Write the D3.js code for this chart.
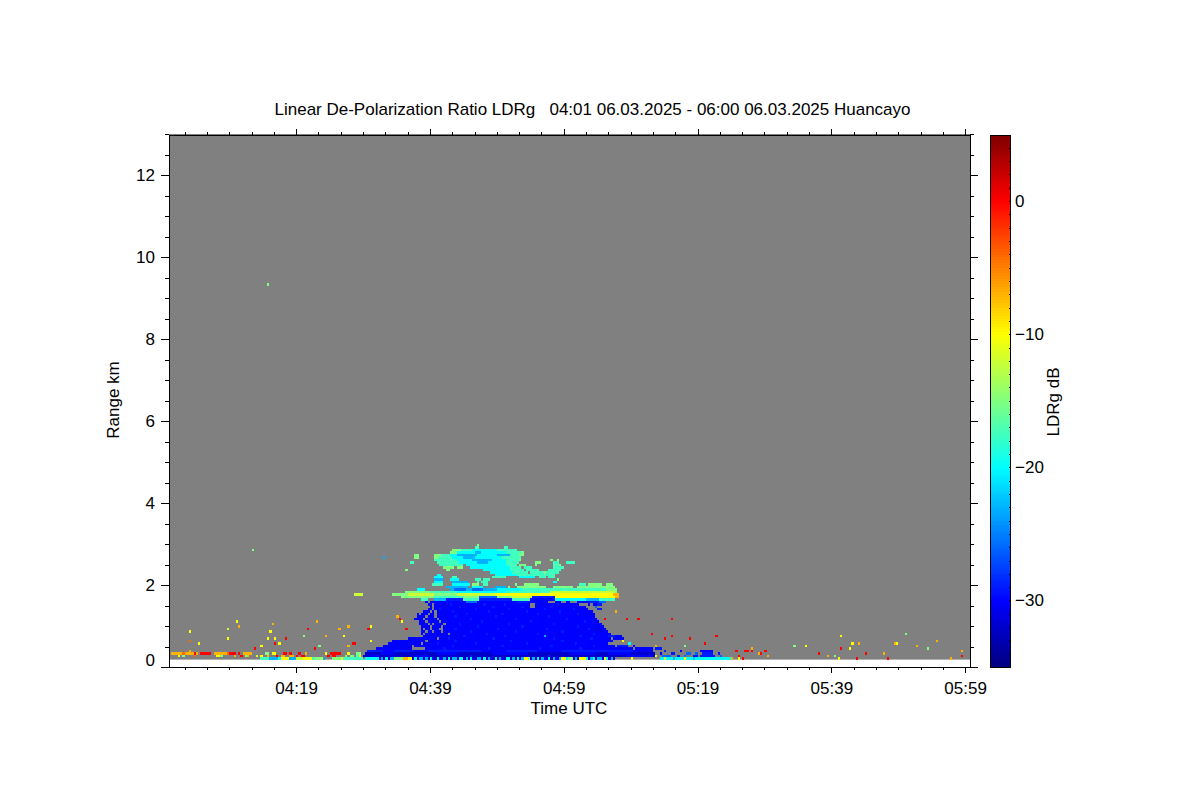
<!DOCTYPE html>
<html><head><meta charset="utf-8">
<script src="https://cdnjs.cloudflare.com/ajax/libs/d3/7.8.5/d3.min.js"></script>
<style>html,body{margin:0;background:#fff}svg{display:block}text{font-family:"Liberation Sans",Arial,sans-serif;fill:#000}</style>
</head><body><svg id="c" width="1200" height="800"></svg>
<script>
const titleText = "Linear De-Polarization Ratio LDRg   04:01 06.03.2025 - 06:00 06.03.2025 Huancayo";
const xLabel = "Time UTC", yLabel = "Range km", barLabel = "LDRg dB";
const timeDomainMin = [0, 119.73];
const rangeDomainKm = [0, 13];
const ldrDomainDb = [-35, 5];
const xTickMinutes = [19, 39, 59, 79, 99, 119];
const xTickLabels = ["04:19", "04:39", "04:59", "05:19", "05:39", "05:59"];
const yTicksKm = [0, 2, 4, 6, 8, 10, 12];
const barTicksDb = [-30, -20, -10, 0];
const colorStopsT = [0, 0.125, 0.375, 0.625, 0.875, 1];
const colorStops = ["#00007f", "#0000ff", "#00ffff", "#ffff00", "#ff0000", "#7f0000"];
const gateStepKm = 0.06, colStepMin = 1 / 3, firstGateKm = 0.18;
// LDR class letter -> dB value
const codeDb = {a:-32, b:-30, c:-29, d:-26, e:-23, f:-20, g:-17.5, h:-15, i:-12, j:-10, k:-7, l:-4, m:0};
// [range km, "startCol[-endCol]code ..."], column = 20 s since 04:00, "." clears a cell
const gateRows = [
[9.30,"44h"],[2.94,"138h"],[2.88,"137-138g 150-151g"],
[2.82,"37g 127-130h 131-135g 136-146f 147-152g 153-155g"],
[2.76,"126-128h 129-140f 137-139e 141-150f 151-157g 158h"],
[2.70,"110-111h 119-121h 122-125g 126-128f 129-137e 138-146f 147-152e 153-156g 157-158h"],
[2.64,"96e 110-111h 119-120h 121-126g 127-131f 132-136e 137-148f 149-153g 154-157g"],
[2.58,"119-123g 124-128g 129-135f 136-144e 145-150f 151-156g 157h 171h 174h"],
[2.52,"108-109g 120-124g 125-129g 130-137f 138-142e 143-150f 151-156g 164-166h 172-174g 178-181g"],
[2.46,"121-126g 127-131g 133-141f 142-150f 151-155g 157-159h 164h 172-174g 175h"],
[2.40,"123-127h 129-131h 135-142f 143-152f 153-157g 159-162g 172-176g"],
[2.34,"106h 124-125h 141-152f 153-158g 160-165g 170-175g"],
[2.28,"144-153f 154-160g 162-167g 168-169h 169-174g"],
[2.22,"120-121f 146-155f 156-167g 168-172g"],
[2.16,"119-122f 127-128g 145-150g 157-163f 166-168g 170-172g"],
[2.10,"119-122e 126-129f 137-139g 141-143g 174h"],
[2.04,"119-122f 127-133e 138g 140-142g 172-173f"],
[1.98,"118-122g 127-134f 136-138h 141-142g 155h 159-165h 184-186g 188-193h 196-198h"],
[1.92,"124-133e 136-140f 146-150e 152h 156-168h 172-180h 183-199h"],
[1.86,"111-114f 126-146e 128-132d 136-140d 147-157f 158-170g 171-195g 196-200h"],
[1.80,"106-116h 117-128g 129-150f 151-170g 171-199i 200h"],
[1.74,"83-86i 100-106h 107-118i 119-128h 129-145i 146-198j 199-201k"],
[1.68,"104-118h 119-131g 132-138h 139-146d 147-153h 154-162i 163-172c 173-199j 200-201k"],
[1.62,"113-115g 119-123e 124-131c 132-138g 139-153c 154-161g 162-172b 173-186f 187-192e 193-199g"],
[1.56,"115b 117-118b 119-188b 133-137d 156-160c 170-172. 176-177. 180-182. 188-192c 193-195d"],
[1.50,"116-117b 119-186b 126c 141c 150c 162-163. 174c 184-186. 188b 190-191b 192-193c"],
[1.44,"117b 119-186b 130c 145c 158c 162-163. 171c 191d"],
[1.38,"116-117b 119-187b 121c 137c 152c 168c 181c 192-193c"],
[1.32,"114-116b 118b 120-189b 127c 143c 160c 175c 200k"],
[1.26,"111b 113-115b 117-118b 120-190b 133c 149c 165c 183c"],
[1.20,"102m 111-114b 116-118b 120-190b 128c 146c 170c"],
[1.14,"103m 110-113b 115-119b 121-191b 135c 155c 178c 195m 205m 210m 225m"],
[1.08,"104j 112-114b 116-120b 122-192b 140c 162c 186c"],
[1.02,"112-115b 117b 119-122b 124-193b 130c 152c 172c"],
[0.96,"113-116b 118-121b 123-194b 138c 158c 183c"],
[0.90,"106m 113b 115-116b 118-120b 123-195b 128c 147c 169c 188c"],
[0.84,"113-114b 116-117b 119-121b 123-196b 135c 155c 176c"],
[0.78,"113b 115-119b 120-124b 126-197b 142c 165c 190c 216m"],
[0.72,"78j 114-121b 122-202b 132c 150c 168e 184c 197-199c 225m"],
[0.66,"107-119b 121-203b 125c 145c 172c 189c 198. 222m 233m"],
[0.60,"103m 100-114b 116-198b 128c 153c 176c 203j"],
[0.54,"83m 98-112b 114-196b 120c 137c 160c 182c 206f"],
[0.48,"80m 96-108b 110-199b 127c 149c 171c 190c 201-205c 208b 218k"],
[0.42,"93-108b 115-207b 123c 143c 166c 184c 209-216b 218-220c"],
[0.36,"89-207c 96-100b 110-115b 140-150b 165-175b 208-216b 222c 229b 238-243b"],
[0.30,"88-217a 95-100b 120-128b 145-160b 180-190b 197-206b 220b 225-226c 232-233d 236d 239-243c 246c"],
[0.24,"87-218a 90-93b 110-115b 135c 170c 205-216b 218j 221-224d 228c 231d 235-236c 238-244c 247d"],
[0.18,"78-86g 88-93f 94b 95e 96a 97f 98a 99-100e 101-104h 105-106k 107-108j 109a 110f 111a 112-113e 114a 115e 116a 117f 118b 119a 120f 121-122b 123e 124a 125f 126a 127-128e 129a 130-131f 132a 133e 134a 135f 136b 137a 138-139e 140a 141f 142a 143e 144b 145a 146f 147a 148e 149b 150a 151-152f 153a 154e 155a 156f 157a 158e 159-160j 161h 162a 163e 164a 165f 166a 167e 168b 169a 170f 171a 172e 173b 174a 175e 176-177j 178f 179-180h 181a 182e 183a 184-186j 187f 188a 189e 190f 191a 192-193e 194b 195j 196f 197a 198e 199a 207j 220-251f 222i 226e 231j 235e 240f 252k"],
// sparse returns before and after the cloud
[1.20,"102k"],[1.08,"30j 66k"],[1.02,"46k"],[0.96,"31k 80k 90j"],[0.90,"26i 62m 76k 89m"],[0.84,"9j 45j"],
[0.78,"330h"],[0.72,"60h 70k 78j 245m 301j"],[0.66,"26j 44j 47j 52m 233m"],[0.60,"9l 90j 344k"],
[0.54,"13j 47m 49j 82m 240m 306j 309k 325k 326j"],[0.48,"41j 67h 80k 231h 285j 335k 280h"],[0.42,"38m 65m 261k 301m 305j 340h"],
[0.36,"9k 254m 258m 259m 261m 267m 355k"],
[0.30,"1-5k 6l 7-10k 11m 12k 14-18m 20k 21-25k 26l 27-29m 31m 33-36k 43-44h 46-47j 51-52m 54m 58m 61k 70j 72-76m 80j 84-85h 264k 265m 291m 312m 320k"],
[0.24,"4j 6h 11l 21-22j 23h 29k 32m 34h 35k 39i 41j 44k 48m 50-51k 54-55k 57m 59-60m 71m 73-74m 79h 81-82h 84g 85j 255m 268k 295k 298h 355m"],
[0.18,"41-44g 45-48e 49f 50-53j 54-56e 57-59i 60-63j 64g 65-67h 68i 69e 73-76h 77j 79-81g 255j 257m 300j 308m 322m 350k"],
[2.82,"37h"]
];

const svg = d3.select("#c");
const plot = {left:169, right:970, top:135, bottom:667};
const bar = {left:990, right:1010};
const x = d3.scaleLinear().domain(timeDomainMin).range([plot.left, plot.right]);
const y = d3.scaleLinear().domain(rangeDomainKm).range([plot.bottom, plot.top - 1]);
const zBar = d3.scaleLinear().domain(ldrDomainDb).range([plot.bottom, plot.top - 0.5]);
const color = d3.scaleLinear()
  .domain(colorStopsT.map(t => ldrDomainDb[0] + t * (ldrDomainDb[1] - ldrDomainDb[0])))
  .range(colorStops).interpolate(d3.interpolateRgb);

// plot background
svg.append("rect").attr("x", x(timeDomainMin[0])).attr("width", x(timeDomainMin[1]) - x(timeDomainMin[0]))
  .attr("y", y(rangeDomainKm[1])).attr("height", y(firstGateKm) - y(rangeDomainKm[1])).attr("fill", "#808080");

// expand gates into cells
const cellMap = new Map();
gateRows.forEach(([km, tokens]) => {
  tokens.split(" ").forEach(tok => {
    const m = tok.match(/^(\d+)(?:-(\d+))?([a-m.])$/);
    const from = +m[1], to = m[2] ? +m[2] : from;
    for (let c = from; c <= to; c++) {
      const key = km.toFixed(2) + "|" + c;
      if (m[3] === ".") cellMap.delete(key);
      else cellMap.set(key, {km, c, db: codeDb[m[3]]});
    }
  });
});
svg.append("g").attr("shape-rendering", "crispEdges").selectAll("rect").data([...cellMap.values()]).join("rect")
  .attr("x", d => x(d.c * colStepMin))
  .attr("width", d => x((d.c + 1) * colStepMin) - x(d.c * colStepMin))
  .attr("y", d => y(d.km + gateStepKm))
  .attr("height", d => y(d.km) - y(d.km + gateStepKm))
  .attr("fill", d => color(d.db));

// axes
const minorX = d3.range(0, 120, 10 / 3).filter(v => v <= timeDomainMin[1]).map(v => v - 1 + 0).filter(v => v >= 0);
const minorY = d3.range(0, 13.01, 0.5);
function style(g) { g.selectAll("path,line").attr("stroke", "#000").attr("stroke-width", 1).attr("shape-rendering", "crispEdges"); g.selectAll("text").attr("font-size", 17); }
const xFmt = d => xTickLabels[xTickMinutes.indexOf(d)];
svg.append("g").attr("transform", `translate(0,${plot.bottom})`).call(d3.axisBottom(x).tickValues(minorX).tickSize(3).tickFormat("").tickSizeOuter(0)).call(style);
svg.append("g").attr("transform", `translate(0,${plot.bottom})`).call(d3.axisBottom(x).tickValues(xTickMinutes).tickSize(6).tickPadding(9).tickFormat(xFmt).tickSizeOuter(0)).call(style);
svg.append("g").attr("transform", `translate(0,${plot.top})`).call(d3.axisTop(x).tickValues(minorX).tickSize(3).tickFormat("").tickSizeOuter(0)).call(style);
svg.append("g").attr("transform", `translate(0,${plot.top})`).call(d3.axisTop(x).tickValues(xTickMinutes).tickSize(6).tickFormat("").tickSizeOuter(0)).call(style);
svg.append("g").attr("transform", `translate(${plot.left},0)`).call(d3.axisLeft(y).tickValues(minorY).tickSize(4).tickFormat("").tickSizeOuter(0)).call(style);
const yAxis = svg.append("g").attr("transform", `translate(${plot.left},0)`).call(d3.axisLeft(y).tickValues(yTicksKm).tickSize(8).tickPadding(6).tickFormat(d3.format("d")).tickSizeOuter(0)).call(style);
yAxis.selectAll(".tick").filter(d => d === 0).select("text").attr("dy", "-0.1em");
svg.append("g").attr("transform", `translate(${plot.right},0)`).call(d3.axisRight(y).tickValues(minorY).tickSize(4).tickFormat("").tickSizeOuter(0)).call(style);
svg.append("g").attr("transform", `translate(${plot.right},0)`).call(d3.axisRight(y).tickValues(yTicksKm).tickSize(8).tickFormat("").tickSizeOuter(0)).call(style);

// colour bar
const barSteps = d3.range(ldrDomainDb[0], ldrDomainDb[1], 0.2);
svg.append("g").attr("shape-rendering", "crispEdges").selectAll("rect").data(barSteps).join("rect")
  .attr("x", bar.left).attr("width", bar.right - bar.left)
  .attr("y", d => zBar(d + 0.2)).attr("height", d => zBar(d) - zBar(d + 0.2) + 0.5)
  .attr("fill", d => color(d + 0.1));
svg.append("rect").attr("x", bar.left).attr("y", plot.top).attr("width", bar.right - bar.left).attr("height", plot.bottom - plot.top)
  .attr("fill", "none").attr("stroke", "#000").attr("shape-rendering", "crispEdges");
const barAxis = svg.append("g").attr("transform", `translate(${bar.right},0)`)
  .call(d3.axisRight(zBar).tickValues(d3.range(ldrDomainDb[0], ldrDomainDb[1] + 1, 1)).tickSize(-1.5).tickFormat("").tickSizeOuter(0)).call(style);
svg.append("g").attr("transform", `translate(${bar.right},0)`)
  .call(d3.axisRight(zBar).tickValues(barTicksDb).tickSize(0).tickPadding(5).tickFormat(d3.format("d")).tickSizeOuter(0))
  .call(style).call(g => g.select("path").remove());

// texts
const T = (txt, tx, ty, rot) => svg.append("text").attr("xml:space", "preserve").style("white-space", "pre").attr("font-size", 17).attr("text-anchor", "middle")
  .attr("transform", `translate(${tx},${ty})` + (rot ? ` rotate(${rot})` : "")).text(txt);
T(titleText, 592.5, 115);
T(xLabel, 569, 714);
T(yLabel, 119, 400, -90);
T(barLabel, 1059, 402, -90);
</script></body></html>
